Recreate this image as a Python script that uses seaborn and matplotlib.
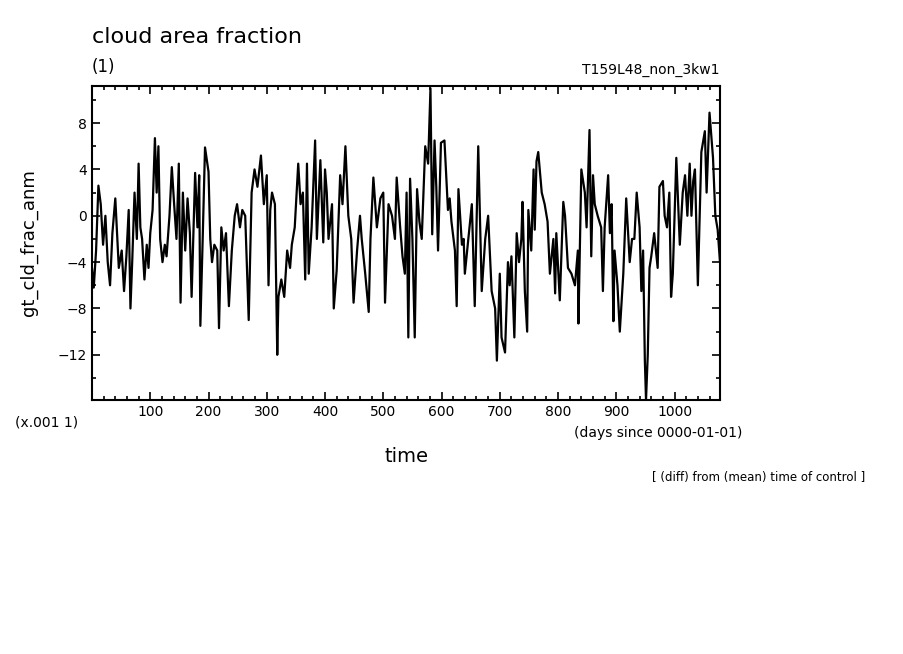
import matplotlib
matplotlib.use("Agg")
import matplotlib.pyplot as plt
import seaborn as sns
import pandas as pd
from matplotlib.ticker import MultipleLocator, FixedLocator

days = [0, 3, 7, 11, 15, 19, 23, 27, 31, 35, 40, 46, 51, 55, 59, 63, 66, 69, 73, 77, 80, 83,
        86, 90, 94, 97, 100, 104, 108, 111, 114, 117, 121, 125, 128, 133, 137, 141, 145, 149,
        152, 156, 160, 164, 168, 171, 177, 181, 184, 186, 190, 194, 200, 203, 206, 210, 215,
        218, 222, 226, 230, 235, 240, 245, 249, 254, 258, 263, 269, 274, 279, 284, 290, 295,
        300, 303, 306, 309, 314, 318, 320, 325, 330, 335, 340, 343, 348, 354, 358, 362,
        366, 369, 372, 377, 383, 386, 392, 397, 400, 403, 406, 412, 415, 420, 426, 430, 435,
        440, 445, 449, 455, 460, 463, 469, 475, 478, 483, 489, 495, 500, 503, 509, 515, 520,
        523, 529, 533, 537, 540, 543, 546, 550, 554, 558, 562, 566, 572, 577, 581, 584, 588,
        591, 594, 599, 605, 611, 614, 617, 623, 626, 629, 635, 638, 640, 646, 652, 657, 663,
        669, 675, 680, 686, 692, 695, 700, 703, 709, 714, 717, 720, 725, 729, 733, 737, 739,
        743, 747, 749, 754, 758, 760, 763, 766, 772, 777, 782, 786, 792, 795, 797, 803, 809,
        812, 817, 823, 829, 834, 835, 840, 846, 849, 854, 857, 860, 863, 868, 874, 877, 880,
        886, 889, 892, 895, 897, 902, 906, 912, 917, 923, 927, 931, 935, 940, 943, 946, 949,
        951, 954, 957, 960, 965, 971, 974, 980, 983, 987, 991, 994, 997, 1003, 1009, 1014,
        1018, 1022, 1026, 1029, 1032, 1035, 1040, 1046, 1052, 1055, 1060, 1066, 1070, 1074, 1078]
vals = [-4.5, -6.2, -3.0, 2.6, 1.0, -2.5, 0.0, -4.0, -6.0, -1.5, 1.5, -4.5, -3.0, -6.5, -3.5, 0.5,
        -8.0, -4.0, 2.0, -2.0, 4.5, -1.0, -2.0, -5.5, -2.5, -4.5, -1.5, 0.5, 6.7, 2.0, 6.0, -2.0,
        -4.0, -2.5, -3.5, 0.0, 4.2, 1.0, -2.0, 4.5, -7.5, 2.0, -3.0, 1.5, -1.5, -7.0, 3.7, -1.0,
        3.5, -9.5, -2.0, 5.9, 3.8, -2.0, -4.0, -2.5, -3.0, -9.7, -1.0, -3.0, -1.5, -7.8, -3.0,
        0.0, 1.0, -1.0, 0.5, 0.0, -9.0, 2.0, 4.0, 2.5, 5.2, 1.0, 3.5, -6.0, 0.5, 2.0, 1.0,
        -12.0, -7.0, -5.5, -7.0, -3.0, -4.5, -2.5, -1.0, 4.5, 1.0, 2.0,
        -5.5, 4.5, -5.0, -1.0, 6.5, -2.0, 4.8, -2.3, 4.0, 2.0, -2.0, 1.0, -8.0, -4.7, 3.5, 1.0,
        6.0, 0.0, -2.0, -7.5, -3.0, 0.0, -2.0, -5.0, -8.3, -2.0, 3.3, -1.0, 1.5, 2.0, -7.5, 1.0,
        0.0, -2.0, 3.3, -1.0, -3.5, -5.0, 2.0, -10.5, 3.2, -2.0, -10.5, 2.3, -0.5, -2.0, 6.0,
        4.5, 11.0, -1.6, 6.5, 2.5, -3.0, 6.3, 6.5, 0.5, 1.5, -0.5, -3.0, -7.8, 2.3, -2.5, -2.0,
        -5.0, -2.0, 1.0, -7.8, 6.0, -6.5, -2.0, 0.0, -6.5, -8.0, -12.5, -5.0, -10.5, -11.8,
        -4.0, -6.0, -3.5, -10.5, -1.5, -4.0, -2.0, 1.2, -6.5, -10.0, 0.5, -3.0, 4.0, -1.2, 4.7,
        5.5, 2.0, 1.0, -0.5, -5.0, -2.0, -6.7, -1.5, -7.3, 1.2, 0.0, -4.5, -5.0, -6.0, -3.0,
        -9.3, 4.0, 2.0, -1.0, 7.4, -3.5, 3.5, 1.0, 0.0, -1.0, -6.5, -1.0, 3.5, -1.5, 1.0,
        -9.1, -3.0, -6.0, -10.0, -5.0, 1.5, -4.0, -2.0, -2.0, 2.0, -1.0, -6.5, -3.0, -12.5,
        -15.9, -12.0, -4.5, -3.5, -1.5, -4.5, 2.5, 3.0, 0.0, -1.0, 2.0, -7.0, -5.0, 5.0, -2.5,
        2.0, 3.5, 0.0, 4.5, 0.0, 3.0, 4.0, -6.0, 5.5, 7.3, 2.0, 8.9, 5.0, 0.0, -1.2, -4.0]
x_ticks = [100, 200, 300, 400, 500, 600, 700, 800, 900, 1000]
y_ticks = [-12, -8, -4, 0, 4, 8]

df = pd.DataFrame({"time": days, "anm": vals})

sns.set_style("ticks")
plt.rcParams['font.family'] = ['DejaVu Sans']
plt.rcParams['text.color'] = 'black'
plt.rcParams['axes.labelcolor'] = 'black'
plt.rcParams['xtick.color'] = 'black'
plt.rcParams['ytick.color'] = 'black'
plt.rcParams['axes.edgecolor'] = 'black'
fig = plt.figure(figsize=(9.04, 6.54), dpi=100)
ax = fig.add_axes([92/904, 1-400/654, 628/904, 314/654])
sns.lineplot(data=df, x="time", y="anm", ax=ax, color="black", linewidth=1.6,
             estimator=None, sort=False)
ax.set_xlim(0, 1078)
ax.set_ylim(-15.9, 11.2)
ax.xaxis.set_major_locator(FixedLocator(x_ticks))
ax.xaxis.set_minor_locator(MultipleLocator(20))
ax.yaxis.set_major_locator(FixedLocator(y_ticks))
ax.yaxis.set_minor_locator(MultipleLocator(2))
ax.tick_params(which="both", direction="in", top=True, right=True, labelsize=10, width=1.2,
               colors="black")
ax.tick_params(which="major", length=6)
ax.tick_params(which="minor", length=3)
for s in ax.spines.values():
    s.set_linewidth(1.5)
    s.set_color("black")
ax.set_xlabel("")
ax.set_ylabel("gt_cld_frac_anm", fontsize=13, labelpad=14, color="black")

fig.text(92/904, 1-37/654, "cloud area fraction", fontsize=16, va="center", color="black")
fig.text(92/904, 1-67/654, "(1)", fontsize=12, va="center", color="black")
fig.text(720/904, 1-70/654, "T159L48_non_3kw1", fontsize=10, va="center", ha="right", color="black")
fig.text(15/904, 1-423/654, "(x.001 1)", fontsize=10, va="center", color="black")
fig.text(742/904, 1-433/654, "(days since 0000-01-01)", fontsize=10, va="center", ha="right", color="black")
fig.text(407/904, 1-457/654, "time", fontsize=14, va="center", ha="center", color="black")
fig.text(865/904, 1-477/654, "[ (diff) from (mean) time of control ]", fontsize=8.5,
         va="center", ha="right", color="black")
fig.savefig("out.png", dpi=100)
